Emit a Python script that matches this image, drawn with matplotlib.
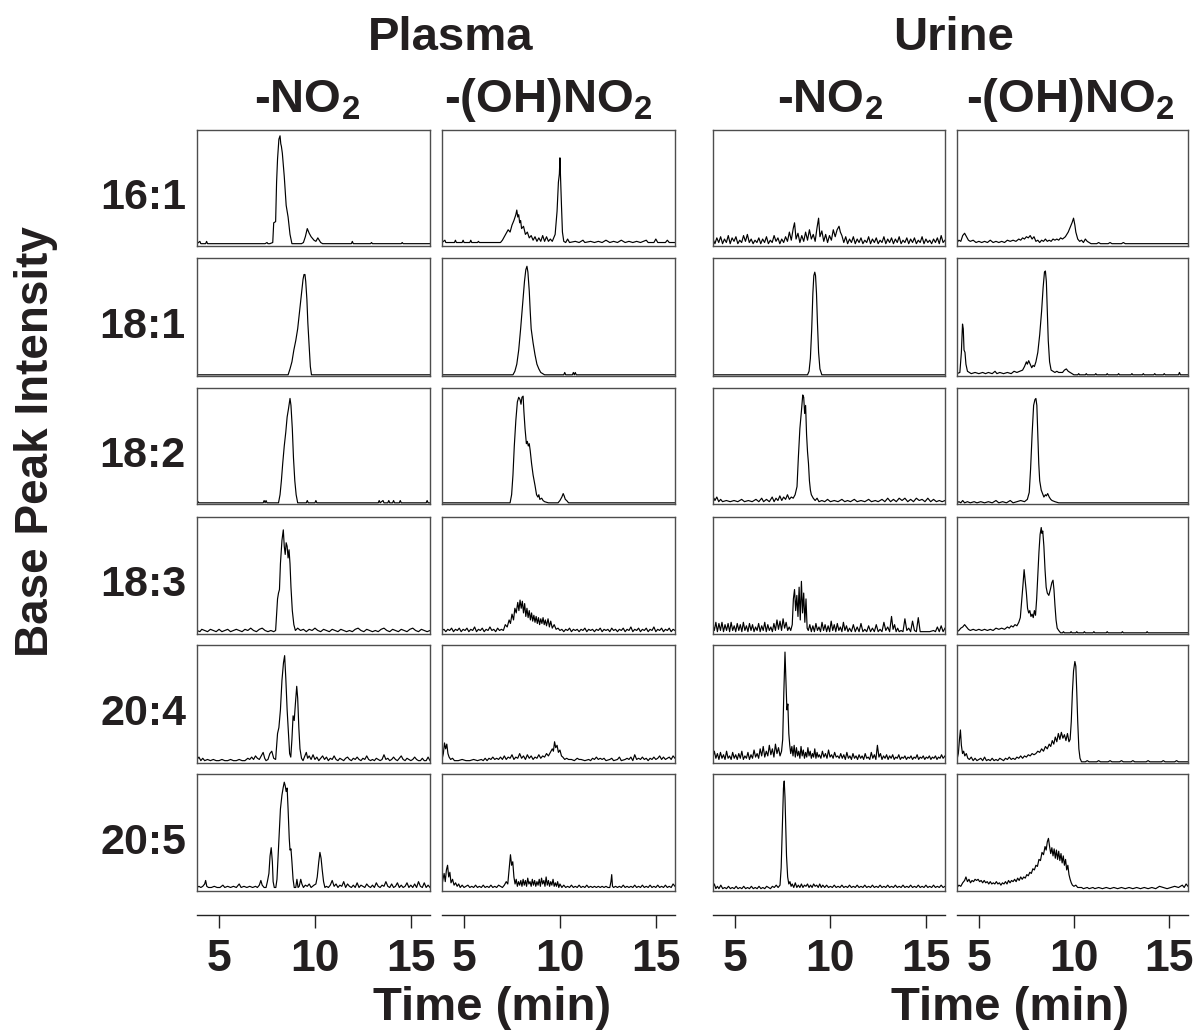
import matplotlib.pyplot as plt

# ---- fonts -------------------------------------------------------------
plt.rcParams['font.family'] = ['Liberation Sans', 'DejaVu Sans']
plt.rcParams['font.weight'] = 'bold'
plt.rcParams['mathtext.fontset'] = 'custom'
plt.rcParams['mathtext.rm'] = 'Liberation Sans:bold'
plt.rcParams['mathtext.it'] = 'Liberation Sans:bold'
plt.rcParams['mathtext.bf'] = 'Liberation Sans:bold'

# ---- labels ------------------------------------------------------------
GROUPS = ['Plasma', 'Urine']
ADDUCTS = [r'-NO$_2$', r'-(OH)NO$_2$', r'-NO$_2$', r'-(OH)NO$_2$']
LIPIDS = ['16:1', '18:1', '18:2', '18:3', '20:4', '20:5']
TIME_TICKS = [5, 10, 15]
T_MIN, T_MAX = 3.85, 16.0

# ---- traces: (time in min, relative intensity in %) ---------------------
# 16:1
plasma_no2_16_1 = [(3.85,2),(4.0,4),(4.05,2),(4.1,2),(4.3,2),(4.35,4),(4.4,2),(7.4,2),(7.5,3),(7.55,2),(7.65,2),(7.8,3),(7.85,20),(7.95,21),(8.0,55),(8.05,75),(8.12,92),(8.18,95),(8.22,88),(8.25,86),(8.3,80),(8.4,60),(8.5,35),(8.6,25),(8.7,10),(8.8,2),(9.3,2),(9.4,3),(9.5,8),(9.6,15),(9.7,11),(9.8,8),(9.95,5),(10.05,4),(10.15,7),(10.3,3),(10.4,2),(11.9,2),(11.95,4),(12.0,2),(12.9,2),(12.95,3),(13.0,2),(14.5,2),(14.55,3),(14.6,2),(16.0,2)]
plasma_ohno2_16_1 = [(3.85,3),(4.0,5),(4.05,3),(4.5,3),(4.55,5),(4.6,3),(4.9,3),(4.95,5),(5.0,3),(5.3,3),(5.35,5),(5.4,3),(5.7,3),(5.75,4),(5.8,3),(6.9,3),(7.0,5),(7.1,8),(7.2,11),(7.3,14),(7.4,12),(7.5,18),(7.6,22),(7.7,27),(7.75,31),(7.8,25),(7.85,27),(7.9,20),(7.95,22),(8.0,15),(8.1,17),(8.2,10),(8.3,12),(8.4,7),(8.5,9),(8.6,5),(8.7,8),(8.8,4),(8.9,7),(9.0,4),(9.1,9),(9.2,4),(9.3,8),(9.4,4),(9.5,6),(9.6,4),(9.75,10),(9.85,30),(9.92,55),(9.97,62),(10.0,76),(10.03,60),(10.08,35),(10.13,12),(10.2,4),(10.3,3),(10.4,6),(10.5,3),(10.8,4),(11.0,3),(11.2,5),(11.3,3),(11.6,4),(11.8,3),(12.0,4),(12.2,3),(12.4,5),(12.6,3),(12.8,4),(13.0,3),(13.2,5),(13.4,3),(13.6,4),(13.8,3),(14.0,4),(14.2,3),(14.5,5),(14.6,3),(14.9,3),(15.0,6),(15.1,3),(15.5,3),(15.6,5),(15.7,3),(16.0,3)]
urine_no2_16_1 = [(3.85,6),(3.95,2),(4.05,7),(4.15,3),(4.25,8),(4.35,2),(4.45,6),(4.55,3),(4.65,9),(4.75,2),(4.85,7),(4.95,4),(5.05,8),(5.15,2),(5.25,5),(5.35,3),(5.45,9),(5.55,4),(5.65,10),(5.75,3),(5.85,6),(5.95,2),(6.05,5),(6.15,3),(6.25,7),(6.35,2),(6.45,6),(6.55,3),(6.65,8),(6.75,2),(6.85,5),(6.95,3),(7.05,9),(7.15,4),(7.25,7),(7.35,2),(7.45,6),(7.55,3),(7.65,8),(7.75,4),(7.85,12),(7.95,5),(8.05,15),(8.12,20),(8.2,6),(8.3,11),(8.4,3),(8.5,9),(8.6,4),(8.7,12),(8.8,5),(8.9,14),(9.0,6),(9.1,10),(9.2,4),(9.3,16),(9.38,24),(9.45,8),(9.55,13),(9.65,4),(9.75,10),(9.85,3),(9.95,9),(10.05,5),(10.15,14),(10.25,8),(10.35,14),(10.45,17),(10.52,12),(10.6,9),(10.7,3),(10.8,8),(10.9,2),(11.0,6),(11.1,3),(11.2,8),(11.3,2),(11.4,6),(11.5,3),(11.6,7),(11.7,2),(11.8,5),(11.9,3),(12.0,8),(12.1,2),(12.2,6),(12.3,3),(12.4,7),(12.5,2),(12.6,5),(12.7,3),(12.8,8),(12.9,2),(13.0,6),(13.1,3),(13.2,7),(13.3,2),(13.4,6),(13.5,3),(13.6,8),(13.7,2),(13.8,5),(13.9,3),(14.0,7),(14.1,2),(14.2,6),(14.3,3),(14.4,7),(14.5,2),(14.6,5),(14.7,3),(14.8,8),(14.9,2),(15.0,6),(15.1,3),(15.2,5),(15.3,2),(15.4,6),(15.5,3),(15.6,7),(15.7,2),(15.8,9),(15.9,3),(16.0,5)]
urine_ohno2_16_1 = [(3.85,3),(3.95,5),(4.05,4),(4.15,9),(4.25,11),(4.35,8),(4.45,5),(4.55,4),(4.7,5),(4.85,3),(5.0,4),(5.15,3),(5.3,4),(5.45,3),(5.6,5),(5.75,3),(5.9,4),(6.05,3),(6.2,4),(6.35,3),(6.5,5),(6.65,4),(6.8,5),(6.95,4),(7.1,6),(7.2,5),(7.3,7),(7.4,6),(7.5,8),(7.6,7),(7.7,9),(7.8,6),(7.9,8),(8.0,4),(8.1,5),(8.2,3),(8.3,5),(8.4,4),(8.5,6),(8.6,4),(8.7,5),(8.8,4),(8.9,6),(9.0,5),(9.1,6),(9.2,5),(9.3,7),(9.4,6),(9.55,8),(9.7,12),(9.8,16),(9.9,20),(9.98,24),(10.05,18),(10.1,12),(10.2,6),(10.3,4),(10.4,5),(10.5,3),(10.6,6),(10.7,4),(10.8,3),(10.9,2),(11.2,2),(11.3,3),(11.4,2),(11.8,2),(11.9,3),(12.0,2),(12.5,2),(12.6,3),(12.7,2),(16.0,2)]

# 18:1
plasma_no2_18_1 = [(3.85,1),(8.6,1),(8.7,6),(8.8,12),(8.9,22),(9.0,30),(9.1,40),(9.2,55),(9.3,70),(9.38,82),(9.43,86),(9.48,86),(9.52,80),(9.58,65),(9.63,45),(9.7,25),(9.76,8),(9.82,1),(16.0,1)]
plasma_ohno2_18_1 = [(3.85,1),(7.55,1),(7.65,4),(7.75,10),(7.85,22),(7.95,40),(8.05,60),(8.15,80),(8.22,90),(8.28,93),(8.33,88),(8.4,72),(8.45,55),(8.5,40),(8.6,28),(8.7,18),(8.8,10),(8.9,6),(9.0,3),(9.1,2),(9.2,1),(10.2,1),(10.25,3),(10.3,1),(10.65,1),(10.7,3),(10.75,1),(10.8,3),(10.85,1),(16.0,1)]
urine_no2_18_1 = [(3.85,1),(8.8,1),(8.88,4),(8.95,15),(9.02,40),(9.08,70),(9.13,85),(9.18,88),(9.22,85),(9.27,70),(9.32,45),(9.38,20),(9.45,6),(9.55,1),(16.0,1)]
urine_ohno2_18_1 = [(3.85,2),(4.0,3),(4.08,20),(4.14,44),(4.18,40),(4.22,22),(4.27,20),(4.32,10),(4.4,4),(4.5,3),(4.6,2),(4.8,3),(5.0,2),(5.2,3),(5.35,2),(5.5,3),(5.7,2),(5.85,4),(5.95,2),(6.1,3),(6.3,2),(6.5,3),(6.7,2),(6.85,4),(7.0,3),(7.15,4),(7.3,5),(7.4,8),(7.5,12),(7.55,10),(7.62,13),(7.7,10),(7.78,7),(7.85,9),(7.92,8),(8.0,12),(8.1,20),(8.2,35),(8.3,55),(8.38,75),(8.45,88),(8.5,89),(8.55,80),(8.6,55),(8.65,30),(8.72,12),(8.8,5),(8.9,4),(9.0,3),(9.1,4),(9.2,3),(9.4,3),(9.5,5),(9.6,6),(9.7,4),(9.8,3),(9.9,2),(10.0,1),(10.2,1),(10.25,2),(10.3,1),(10.6,1),(10.65,2),(10.7,1),(11.1,1),(11.15,2),(11.2,1),(11.7,1),(11.75,2),(11.8,1),(12.3,1),(12.35,2),(12.4,1),(13.0,1),(13.05,2),(13.1,1),(13.6,1),(13.65,2),(13.7,1),(14.2,1),(14.25,2),(14.3,1),(14.7,1),(14.75,2),(14.8,1),(15.5,1),(15.55,3),(15.6,1),(16.0,1)]

# 18:2
plasma_no2_18_2 = [(3.85,1),(3.9,2),(3.95,1),(7.3,1),(7.35,3),(7.4,1),(7.45,3),(7.5,1),(8.1,1),(8.18,8),(8.25,20),(8.32,35),(8.4,50),(8.48,62),(8.55,75),(8.62,82),(8.7,91),(8.75,85),(8.82,65),(8.88,40),(8.95,20),(9.02,8),(9.1,1),(9.55,1),(9.6,3),(9.65,1),(10.0,1),(10.05,3),(10.1,1),(13.3,1),(13.35,3),(13.4,1),(13.55,3),(13.6,1),(13.8,1),(13.85,3),(13.9,1),(14.05,1),(14.1,3),(14.15,1),(14.4,1),(14.45,3),(14.5,1),(15.8,1),(15.85,3),(15.9,1),(16.0,1)]
plasma_ohno2_18_2 = [(3.85,1),(7.4,1),(7.48,8),(7.55,25),(7.62,50),(7.7,72),(7.78,88),(7.85,92),(7.92,90),(7.97,86),(8.02,92),(8.08,93),(8.12,80),(8.18,65),(8.25,52),(8.3,54),(8.35,50),(8.4,52),(8.45,46),(8.52,35),(8.6,25),(8.7,16),(8.78,8),(8.85,6),(8.9,8),(8.95,4),(9.05,5),(9.12,3),(9.2,2),(9.4,1),(9.9,1),(10.0,3),(10.1,6),(10.17,9),(10.22,7),(10.28,4),(10.35,3),(10.45,1),(16.0,1)]
urine_no2_18_2 = [(3.85,2),(3.9,5),(3.95,3),(4.05,6),(4.15,2),(4.25,4),(4.35,2),(4.55,3),(4.75,2),(4.95,3),(5.15,2),(5.35,4),(5.5,2),(5.7,3),(5.9,2),(6.1,4),(6.25,2),(6.4,5),(6.5,2),(6.65,4),(6.8,2),(6.95,6),(7.05,2),(7.15,5),(7.25,3),(7.35,7),(7.45,3),(7.55,6),(7.65,4),(7.75,8),(7.85,4),(7.95,6),(8.05,5),(8.15,8),(8.25,15),(8.32,40),(8.4,65),(8.48,80),(8.55,94),(8.6,92),(8.65,78),(8.7,85),(8.75,60),(8.8,45),(8.85,35),(8.9,20),(8.95,12),(9.0,8),(9.1,5),(9.2,3),(9.3,5),(9.4,2),(9.55,3),(9.7,2),(9.85,4),(10.0,2),(10.2,3),(10.4,2),(10.6,4),(10.75,2),(10.9,3),(11.05,2),(11.25,4),(11.4,2),(11.6,3),(11.8,2),(12.0,4),(12.15,2),(12.35,3),(12.5,2),(12.7,4),(12.85,2),(13.0,5),(13.15,2),(13.3,4),(13.45,2),(13.6,5),(13.75,3),(13.9,5),(14.05,2),(14.2,4),(14.35,2),(14.5,5),(14.65,3),(14.8,4),(14.95,2),(15.1,5),(15.25,2),(15.4,4),(15.55,2),(15.7,3),(15.85,2),(16.0,3)]
urine_ohno2_18_2 = [(3.85,1),(3.95,2),(4.05,1),(4.15,3),(4.25,1),(4.4,2),(4.55,1),(4.75,2),(4.9,1),(5.1,2),(5.3,1),(5.5,2),(5.7,1),(5.9,3),(6.05,1),(6.25,2),(6.45,1),(6.65,3),(6.8,1),(7.0,2),(7.2,3),(7.4,2),(7.55,4),(7.65,10),(7.72,30),(7.8,60),(7.88,85),(7.95,90),(8.0,91),(8.05,85),(8.1,60),(8.15,35),(8.2,20),(8.28,12),(8.35,9),(8.42,6),(8.5,8),(8.55,7),(8.62,9),(8.7,6),(8.78,4),(8.85,3),(9.0,2),(9.2,1),(16.0,1)]

# 18:3
plasma_no2_18_3 = [(3.85,3),(4.0,2),(4.1,4),(4.25,3),(4.4,2),(4.55,4),(4.7,3),(4.85,2),(5.0,4),(5.15,2),(5.3,3),(5.45,4),(5.6,2),(5.75,3),(5.9,4),(6.05,3),(6.2,2),(6.35,4),(6.5,3),(6.65,5),(6.8,3),(6.95,2),(7.1,4),(7.25,5),(7.4,3),(7.55,2),(7.7,3),(7.85,2),(7.95,3),(8.05,30),(8.1,35),(8.15,38),(8.2,60),(8.28,80),(8.35,89),(8.4,75),(8.45,68),(8.5,78),(8.55,75),(8.6,65),(8.65,72),(8.7,60),(8.75,40),(8.82,20),(8.9,8),(8.98,3),(9.1,5),(9.25,3),(9.4,4),(9.55,2),(9.7,4),(9.85,3),(10.0,5),(10.15,3),(10.3,2),(10.45,4),(10.6,3),(10.75,2),(10.9,4),(11.05,3),(11.2,2),(11.35,4),(11.5,3),(11.65,2),(11.8,3),(11.95,2),(12.1,4),(12.25,5),(12.4,3),(12.55,2),(12.7,4),(12.85,3),(13.0,2),(13.15,3),(13.3,2),(13.45,4),(13.6,5),(13.75,3),(13.9,2),(14.05,4),(14.2,3),(14.35,2),(14.5,4),(14.65,3),(14.8,2),(14.95,4),(15.1,5),(15.25,3),(15.4,2),(15.55,4),(15.7,3),(15.85,2),(16.0,3)]
plasma_ohno2_18_3 = [(3.85,3),(3.95,4),(4.05,2),(4.15,4),(4.25,3),(4.35,5),(4.45,2),(4.55,4),(4.65,3),(4.75,5),(4.85,2),(4.95,4),(5.05,3),(5.15,5),(5.25,2),(5.35,4),(5.45,3),(5.55,6),(5.65,2),(5.75,4),(5.85,3),(5.95,5),(6.05,2),(6.15,4),(6.25,3),(6.35,6),(6.45,3),(6.55,4),(6.65,2),(6.75,5),(6.85,3),(6.95,4),(7.05,3),(7.15,8),(7.25,6),(7.35,12),(7.42,9),(7.5,17),(7.58,12),(7.65,22),(7.72,18),(7.8,27),(7.86,20),(7.92,29),(7.98,22),(8.04,28),(8.1,18),(8.16,26),(8.22,15),(8.28,22),(8.34,14),(8.4,20),(8.46,12),(8.52,18),(8.58,11),(8.64,16),(8.7,10),(8.76,15),(8.82,9),(8.88,14),(8.94,8),(9.0,13),(9.06,9),(9.12,14),(9.18,8),(9.24,12),(9.3,7),(9.38,13),(9.45,6),(9.52,11),(9.6,5),(9.7,8),(9.8,4),(9.9,5),(10.0,3),(10.1,4),(10.2,2),(10.3,4),(10.4,3),(10.5,5),(10.6,2),(10.7,4),(10.8,3),(10.9,4),(11.0,2),(11.1,4),(11.2,3),(11.3,5),(11.4,2),(11.5,4),(11.6,3),(11.7,4),(11.8,2),(11.9,4),(12.0,3),(12.1,5),(12.2,2),(12.3,4),(12.4,3),(12.5,4),(12.6,2),(12.7,5),(12.8,3),(12.9,4),(13.0,2),(13.1,4),(13.2,3),(13.3,5),(13.4,2),(13.5,4),(13.6,3),(13.7,6),(13.8,2),(13.9,4),(14.0,3),(14.1,5),(14.2,2),(14.3,4),(14.4,3),(14.5,5),(14.6,2),(14.7,4),(14.8,3),(14.9,6),(15.0,2),(15.1,4),(15.2,3),(15.3,5),(15.4,2),(15.5,4),(15.6,3),(15.7,5),(15.8,2),(15.9,4),(16.0,3)]
urine_no2_18_3 = [(3.85,8),(3.92,3),(4.0,10),(4.08,2),(4.16,9),(4.24,3),(4.32,10),(4.4,2),(4.48,8),(4.56,3),(4.64,9),(4.72,2),(4.8,10),(4.88,3),(4.96,7),(5.04,2),(5.12,9),(5.2,3),(5.28,8),(5.36,2),(5.44,10),(5.52,3),(5.6,7),(5.68,2),(5.76,9),(5.84,3),(5.92,8),(6.0,2),(6.08,6),(6.16,3),(6.24,9),(6.32,2),(6.4,7),(6.48,3),(6.56,10),(6.64,2),(6.72,8),(6.8,3),(6.88,6),(6.96,2),(7.04,9),(7.12,3),(7.2,12),(7.28,4),(7.36,11),(7.44,3),(7.52,13),(7.6,5),(7.68,10),(7.76,3),(7.84,6),(7.92,3),(8.0,8),(8.06,30),(8.12,38),(8.18,20),(8.24,33),(8.3,15),(8.36,40),(8.42,12),(8.48,45),(8.54,18),(8.6,35),(8.66,10),(8.72,30),(8.78,5),(8.84,3),(8.92,8),(9.0,2),(9.08,7),(9.16,2),(9.24,9),(9.32,3),(9.4,6),(9.48,2),(9.56,10),(9.64,3),(9.72,8),(9.8,2),(9.88,7),(9.96,2),(10.04,11),(10.12,3),(10.2,8),(10.28,2),(10.36,9),(10.44,3),(10.52,6),(10.6,2),(10.68,10),(10.76,3),(10.84,7),(10.92,2),(11.0,5),(11.1,2),(11.2,8),(11.3,2),(11.4,6),(11.5,2),(11.6,9),(11.7,2),(11.8,4),(11.9,2),(12.0,7),(12.1,2),(12.2,5),(12.3,2),(12.4,8),(12.5,2),(12.6,4),(12.7,2),(12.8,10),(12.9,3),(13.0,6),(13.1,2),(13.2,15),(13.28,4),(13.36,8),(13.44,2),(13.52,5),(13.6,2),(13.7,3),(13.8,2),(13.9,13),(14.0,3),(14.1,5),(14.2,2),(14.3,11),(14.4,3),(14.5,2),(14.6,14),(14.7,2),(14.8,2),(15.0,2),(15.2,2),(15.4,3),(15.5,2),(15.6,6),(15.7,2),(15.8,7),(15.9,2),(16.0,5)]
urine_ohno2_18_3 = [(3.85,2),(3.95,3),(4.05,5),(4.15,6),(4.25,8),(4.35,6),(4.45,4),(4.55,3),(4.7,4),(4.85,3),(5.0,4),(5.15,3),(5.3,4),(5.45,3),(5.6,4),(5.75,3),(5.9,5),(6.05,4),(6.2,5),(6.35,4),(6.5,6),(6.6,5),(6.7,7),(6.8,6),(6.9,8),(7.0,7),(7.1,10),(7.18,14),(7.25,28),(7.32,42),(7.38,55),(7.44,45),(7.5,35),(7.56,22),(7.62,18),(7.68,20),(7.74,15),(7.8,17),(7.86,14),(7.92,20),(7.98,16),(8.04,30),(8.1,50),(8.16,70),(8.22,85),(8.28,91),(8.32,86),(8.36,88),(8.42,75),(8.48,55),(8.54,40),(8.6,35),(8.68,33),(8.76,38),(8.84,44),(8.9,46),(8.95,38),(9.0,25),(9.06,12),(9.12,5),(9.2,3),(9.3,1),(9.4,1),(9.45,2),(9.5,1),(9.8,1),(9.85,2),(9.9,1),(10.1,1),(10.15,2),(10.2,1),(10.5,1),(10.55,2),(10.6,1),(11.0,1),(11.05,2),(11.1,1),(11.7,1),(11.75,2),(11.8,1),(12.5,1),(12.55,2),(12.6,1),(13.8,1),(13.85,2),(13.9,1),(16.0,1)]

# 20:4
plasma_no2_20_4 = [(3.85,3),(3.95,5),(4.05,2),(4.15,4),(4.25,2),(4.4,3),(4.55,2),(4.7,3),(4.85,2),(5.0,2),(5.15,3),(5.3,2),(5.45,2),(5.6,3),(5.75,2),(5.9,2),(6.05,3),(6.2,2),(6.35,2),(6.5,4),(6.6,3),(6.7,5),(6.8,3),(6.9,6),(7.0,4),(7.1,3),(7.2,6),(7.3,9),(7.38,4),(7.45,2),(7.55,3),(7.65,8),(7.75,10),(7.85,4),(7.95,3),(8.05,25),(8.12,30),(8.2,45),(8.28,70),(8.36,85),(8.42,91),(8.48,72),(8.55,45),(8.62,25),(8.68,8),(8.74,5),(8.8,20),(8.86,40),(8.92,36),(8.98,50),(9.05,65),(9.1,55),(9.16,30),(9.22,12),(9.3,4),(9.38,2),(9.45,5),(9.55,9),(9.62,4),(9.7,6),(9.8,3),(9.9,7),(10.0,3),(10.1,5),(10.2,2),(10.3,4),(10.4,6),(10.5,3),(10.6,5),(10.7,2),(10.8,4),(10.9,3),(11.0,6),(11.1,3),(11.2,2),(11.3,4),(11.4,3),(11.5,2),(11.6,4),(11.7,5),(11.8,3),(11.9,2),(12.0,4),(12.1,3),(12.2,5),(12.3,3),(12.4,2),(12.5,4),(12.6,3),(12.7,6),(12.8,3),(12.9,2),(13.0,3),(13.1,2),(13.2,4),(13.3,3),(13.4,2),(13.5,3),(13.6,7),(13.7,3),(13.8,4),(13.9,2),(14.0,3),(14.1,5),(14.2,3),(14.3,2),(14.4,4),(14.5,6),(14.6,3),(14.7,2),(14.8,4),(14.9,3),(15.0,2),(15.1,3),(15.2,5),(15.3,3),(15.4,2),(15.5,2),(15.6,4),(15.7,2),(15.8,2),(15.9,5),(16.0,2)]
plasma_ohno2_20_4 = [(3.85,3),(3.92,8),(3.98,17),(4.04,12),(4.1,16),(4.16,8),(4.22,5),(4.3,3),(4.4,4),(4.5,2),(4.7,2),(4.9,3),(5.1,2),(5.3,2),(5.5,3),(5.7,2),(5.9,3),(6.0,2),(6.1,4),(6.2,2),(6.3,4),(6.4,3),(6.5,5),(6.6,3),(6.7,4),(6.8,3),(6.9,5),(7.0,3),(7.1,6),(7.2,3),(7.3,5),(7.4,4),(7.5,7),(7.6,3),(7.7,5),(7.8,4),(7.9,8),(8.0,4),(8.1,6),(8.2,3),(8.3,7),(8.4,4),(8.5,6),(8.6,3),(8.7,5),(8.8,4),(8.9,7),(9.0,4),(9.1,6),(9.2,5),(9.3,8),(9.4,6),(9.5,9),(9.6,12),(9.66,10),(9.72,18),(9.78,13),(9.85,15),(9.92,9),(10.0,11),(10.08,6),(10.15,5),(10.25,3),(10.35,4),(10.45,3),(10.6,3),(10.75,2),(10.9,4),(11.0,3),(11.1,3),(11.3,2),(11.5,3),(11.6,2),(11.7,4),(11.8,3),(11.9,5),(12.0,3),(12.1,4),(12.2,3),(12.3,4),(12.4,2),(12.6,3),(12.7,4),(12.8,2),(13.0,3),(13.1,5),(13.2,2),(13.4,3),(13.5,4),(13.6,3),(13.7,5),(13.8,2),(13.9,7),(14.0,3),(14.1,4),(14.2,3),(14.3,5),(14.4,3),(14.5,4),(14.6,2),(14.7,4),(14.8,3),(14.9,5),(15.0,3),(15.1,4),(15.2,6),(15.3,3),(15.4,5),(15.5,3),(15.6,4),(15.7,5),(15.8,3),(15.9,6),(16.0,4)]
urine_no2_20_4 = [(3.85,5),(3.92,10),(4.0,4),(4.08,8),(4.16,3),(4.24,9),(4.32,4),(4.4,7),(4.48,3),(4.56,10),(4.64,4),(4.72,6),(4.8,3),(4.88,9),(4.96,4),(5.04,7),(5.12,3),(5.2,8),(5.28,4),(5.36,10),(5.44,3),(5.52,6),(5.6,4),(5.68,9),(5.76,3),(5.84,7),(5.92,4),(6.0,11),(6.08,5),(6.16,8),(6.24,4),(6.32,12),(6.4,6),(6.48,14),(6.56,5),(6.64,10),(6.72,6),(6.8,15),(6.88,7),(6.96,12),(7.04,5),(7.12,16),(7.2,8),(7.28,13),(7.36,6),(7.44,10),(7.5,20),(7.56,60),(7.62,94),(7.67,70),(7.72,45),(7.77,50),(7.82,25),(7.87,15),(7.92,8),(7.98,14),(8.04,6),(8.1,15),(8.16,5),(8.22,13),(8.28,6),(8.34,10),(8.4,4),(8.46,14),(8.52,6),(8.58,11),(8.64,4),(8.7,9),(8.76,5),(8.82,13),(8.88,6),(8.94,10),(9.0,4),(9.06,8),(9.12,5),(9.18,12),(9.24,4),(9.3,9),(9.36,5),(9.42,7),(9.5,4),(9.58,10),(9.66,5),(9.74,8),(9.82,4),(9.9,11),(9.98,5),(10.06,7),(10.14,4),(10.22,9),(10.3,5),(10.38,6),(10.46,4),(10.54,8),(10.62,4),(10.7,7),(10.78,3),(10.86,9),(10.94,4),(11.02,6),(11.1,3),(11.18,8),(11.26,4),(11.34,6),(11.42,3),(11.5,7),(11.58,4),(11.66,6),(11.74,3),(11.82,8),(11.9,4),(11.98,5),(12.06,3),(12.14,9),(12.22,4),(12.3,7),(12.38,3),(12.46,15),(12.54,5),(12.62,8),(12.7,3),(12.78,6),(12.86,4),(12.94,7),(13.02,3),(13.1,6),(13.18,4),(13.26,7),(13.34,3),(13.42,5),(13.5,4),(13.58,7),(13.66,3),(13.74,5),(13.82,4),(13.9,6),(13.98,3),(14.06,5),(14.14,4),(14.22,6),(14.3,3),(14.38,5),(14.46,4),(14.54,7),(14.62,3),(14.7,5),(14.78,4),(14.86,6),(14.94,3),(15.02,5),(15.1,4),(15.18,6),(15.26,3),(15.34,5),(15.42,4),(15.5,6),(15.58,3),(15.66,5),(15.74,4),(15.82,7),(15.9,4),(16.0,6)]
urine_ohno2_20_4 = [(3.85,3),(3.92,8),(3.98,20),(4.03,28),(4.08,15),(4.14,8),(4.2,10),(4.26,6),(4.34,8),(4.42,4),(4.5,3),(4.6,5),(4.7,2),(4.8,4),(4.9,2),(5.0,3),(5.1,4),(5.2,2),(5.3,5),(5.4,2),(5.5,3),(5.6,2),(5.7,4),(5.8,2),(5.9,3),(6.0,2),(6.1,4),(6.2,3),(6.3,2),(6.4,4),(6.5,3),(6.6,5),(6.7,3),(6.8,4),(6.9,3),(7.0,5),(7.1,4),(7.2,6),(7.3,4),(7.4,6),(7.5,5),(7.6,7),(7.7,6),(7.8,8),(7.9,7),(8.0,8),(8.1,10),(8.2,9),(8.3,12),(8.4,10),(8.5,14),(8.6,12),(8.7,16),(8.78,14),(8.86,19),(8.94,16),(9.02,22),(9.1,18),(9.18,25),(9.26,20),(9.34,26),(9.42,21),(9.5,24),(9.58,19),(9.66,25),(9.74,18),(9.8,20),(9.86,35),(9.92,60),(9.98,78),(10.05,86),(10.1,82),(10.15,60),(10.2,35),(10.26,12),(10.32,4),(10.4,1),(10.6,1),(10.7,2),(10.8,1),(11.2,1),(11.3,2),(11.4,1),(11.8,1),(11.9,2),(12.0,1),(12.4,1),(12.5,2),(12.6,1),(13.0,1),(13.1,2),(13.2,1),(13.8,1),(13.9,2),(14.0,1),(14.6,1),(14.7,2),(14.8,1),(15.3,1),(15.4,2),(15.5,1),(16.0,1)]

# 20:5
plasma_no2_20_5 = [(3.85,3),(3.95,4),(4.05,3),(4.15,4),(4.25,6),(4.3,9),(4.36,4),(4.45,3),(4.6,3),(4.75,4),(4.9,3),(5.05,3),(5.2,5),(5.3,3),(5.45,4),(5.6,3),(5.75,4),(5.9,3),(6.05,6),(6.15,3),(6.3,4),(6.45,3),(6.6,4),(6.75,3),(6.9,4),(7.0,3),(7.1,5),(7.18,9),(7.25,5),(7.35,3),(7.45,3),(7.52,8),(7.6,15),(7.66,30),(7.72,37),(7.78,25),(7.82,8),(7.88,3),(7.96,3),(8.02,10),(8.08,30),(8.14,50),(8.2,70),(8.28,82),(8.34,88),(8.4,93),(8.45,90),(8.5,85),(8.55,88),(8.6,70),(8.66,45),(8.7,35),(8.75,36),(8.8,25),(8.86,10),(8.92,3),(9.0,3),(9.06,10),(9.12,3),(9.18,4),(9.26,10),(9.32,6),(9.4,3),(9.5,5),(9.6,4),(9.7,6),(9.8,3),(9.95,5),(10.05,6),(10.12,12),(10.2,25),(10.26,33),(10.32,28),(10.38,18),(10.45,8),(10.52,3),(10.6,4),(10.7,3),(10.8,5),(10.9,9),(11.0,4),(11.1,6),(11.2,3),(11.3,5),(11.4,4),(11.5,8),(11.6,3),(11.7,6),(11.8,4),(11.9,3),(12.0,5),(12.1,3),(12.2,7),(12.3,3),(12.4,5),(12.5,4),(12.6,3),(12.7,6),(12.8,4),(12.9,3),(13.0,5),(13.1,3),(13.2,7),(13.3,4),(13.4,3),(13.5,5),(13.6,4),(13.7,8),(13.8,4),(13.9,3),(14.0,6),(14.1,3),(14.2,4),(14.3,7),(14.4,3),(14.5,5),(14.6,3),(14.7,4),(14.8,7),(14.9,3),(15.0,5),(15.1,3),(15.2,6),(15.3,3),(15.4,8),(15.5,4),(15.6,3),(15.7,7),(15.8,3),(15.9,5),(16.0,3)]
plasma_ohno2_20_5 = [(3.85,5),(3.9,10),(3.96,15),(4.02,8),(4.08,18),(4.14,22),(4.2,12),(4.26,16),(4.32,7),(4.4,10),(4.48,5),(4.56,7),(4.64,4),(4.72,6),(4.8,3),(4.9,5),(5.0,3),(5.1,4),(5.2,5),(5.3,3),(5.4,4),(5.5,3),(5.6,5),(5.7,3),(5.8,4),(5.9,3),(6.0,5),(6.1,3),(6.2,4),(6.3,3),(6.4,5),(6.5,3),(6.6,4),(6.7,3),(6.8,5),(6.9,4),(7.0,3),(7.1,5),(7.2,8),(7.28,6),(7.36,20),(7.42,31),(7.48,22),(7.54,25),(7.6,12),(7.66,6),(7.72,10),(7.78,4),(7.84,8),(7.9,5),(7.96,9),(8.02,4),(8.08,10),(8.14,5),(8.2,9),(8.26,4),(8.32,11),(8.38,6),(8.44,8),(8.5,4),(8.56,10),(8.62,5),(8.68,9),(8.74,4),(8.8,8),(8.86,5),(8.92,10),(8.98,4),(9.04,11),(9.1,6),(9.16,9),(9.22,4),(9.28,12),(9.34,5),(9.4,9),(9.46,4),(9.52,8),(9.58,5),(9.64,10),(9.7,4),(9.76,7),(9.82,4),(9.88,8),(9.94,3),(10.0,6),(10.1,3),(10.2,5),(10.3,3),(10.4,4),(10.5,3),(10.6,5),(10.7,3),(10.8,4),(10.9,3),(11.0,5),(11.1,3),(11.2,4),(11.3,3),(11.4,5),(11.5,3),(11.6,4),(11.7,3),(11.8,4),(11.9,3),(12.0,4),(12.1,3),(12.2,4),(12.3,3),(12.4,4),(12.5,3),(12.6,3),(12.66,8),(12.7,14),(12.74,4),(12.8,3),(12.9,4),(13.0,3),(13.1,4),(13.2,3),(13.3,5),(13.4,3),(13.5,4),(13.6,3),(13.7,4),(13.8,3),(13.9,5),(14.0,3),(14.1,4),(14.2,3),(14.3,5),(14.4,3),(14.5,4),(14.6,3),(14.7,5),(14.8,3),(14.9,4),(15.0,3),(15.1,5),(15.2,3),(15.3,4),(15.4,3),(15.5,5),(15.6,3),(15.7,4),(15.8,3),(15.9,6),(16.0,4)]
urine_no2_20_5 = [(3.85,3),(3.92,6),(4.0,2),(4.08,4),(4.16,2),(4.26,5),(4.36,2),(4.46,3),(4.56,2),(4.66,4),(4.76,2),(4.86,3),(4.96,2),(5.06,4),(5.16,2),(5.26,3),(5.36,2),(5.46,4),(5.56,2),(5.66,3),(5.76,2),(5.86,4),(5.96,2),(6.06,3),(6.16,2),(6.26,4),(6.36,2),(6.46,3),(6.56,2),(6.66,4),(6.76,3),(6.86,2),(6.96,4),(7.06,3),(7.16,5),(7.26,3),(7.36,5),(7.42,20),(7.48,55),(7.54,88),(7.58,94),(7.62,80),(7.66,55),(7.7,30),(7.76,12),(7.82,6),(7.88,8),(7.94,4),(8.0,6),(8.08,3),(8.16,7),(8.24,3),(8.32,5),(8.4,3),(8.48,6),(8.56,3),(8.64,5),(8.72,4),(8.8,6),(8.88,3),(8.96,5),(9.04,3),(9.12,6),(9.2,4),(9.28,5),(9.36,3),(9.44,6),(9.52,3),(9.6,5),(9.7,3),(9.8,5),(9.9,3),(10.0,4),(10.1,3),(10.2,5),(10.3,3),(10.4,4),(10.5,3),(10.6,5),(10.7,3),(10.8,4),(10.9,3),(11.0,5),(11.1,3),(11.2,4),(11.3,3),(11.4,5),(11.5,3),(11.6,4),(11.7,3),(11.8,5),(11.9,3),(12.0,4),(12.1,3),(12.2,5),(12.3,3),(12.4,4),(12.5,3),(12.6,5),(12.7,3),(12.8,4),(12.9,3),(13.0,5),(13.1,3),(13.2,4),(13.3,3),(13.4,5),(13.5,3),(13.6,4),(13.7,3),(13.8,5),(13.9,3),(14.0,4),(14.1,3),(14.2,5),(14.3,3),(14.4,4),(14.5,3),(14.6,5),(14.7,3),(14.8,4),(14.9,3),(15.0,5),(15.1,3),(15.2,4),(15.3,3),(15.4,5),(15.5,3),(15.6,4),(15.7,3),(15.8,5),(15.9,3),(16.0,4)]
urine_ohno2_20_5 = [(3.85,3),(3.95,5),(4.05,4),(4.15,7),(4.25,9),(4.32,12),(4.4,8),(4.48,10),(4.56,7),(4.64,9),(4.72,8),(4.8,10),(4.88,9),(4.96,10),(5.04,8),(5.12,9),(5.2,7),(5.28,9),(5.36,7),(5.44,8),(5.52,6),(5.6,8),(5.68,6),(5.76,7),(5.84,6),(5.92,8),(6.0,6),(6.08,7),(6.16,5),(6.24,7),(6.32,6),(6.4,8),(6.48,6),(6.56,9),(6.64,7),(6.72,9),(6.8,8),(6.88,10),(6.96,8),(7.04,11),(7.12,9),(7.2,12),(7.28,10),(7.36,12),(7.44,11),(7.52,14),(7.6,13),(7.68,16),(7.76,15),(7.84,19),(7.92,18),(8.0,22),(8.08,21),(8.16,27),(8.24,26),(8.32,33),(8.4,31),(8.48,38),(8.54,35),(8.6,42),(8.66,45),(8.72,38),(8.78,32),(8.84,37),(8.9,30),(8.96,36),(9.02,28),(9.08,35),(9.14,27),(9.2,34),(9.26,26),(9.32,32),(9.38,24),(9.44,30),(9.5,22),(9.56,27),(9.62,18),(9.68,22),(9.74,14),(9.8,10),(9.86,7),(9.92,5),(10.0,4),(10.1,5),(10.2,3),(10.4,3),(10.5,2),(10.7,3),(10.8,2),(11.0,3),(11.1,2),(11.3,3),(11.5,2),(11.7,3),(11.9,2),(12.1,3),(12.3,2),(12.5,3),(12.7,2),(12.9,3),(13.1,2),(13.3,3),(13.5,2),(13.7,3),(13.9,2),(14.1,3),(14.3,2),(14.5,4),(14.7,3),(14.9,2),(15.1,3),(15.3,4),(15.5,3),(15.7,5),(15.8,3),(15.9,6),(16.0,4)]

grid = [
    [plasma_no2_16_1, plasma_ohno2_16_1, urine_no2_16_1, urine_ohno2_16_1],
    [plasma_no2_18_1, plasma_ohno2_18_1, urine_no2_18_1, urine_ohno2_18_1],
    [plasma_no2_18_2, plasma_ohno2_18_2, urine_no2_18_2, urine_ohno2_18_2],
    [plasma_no2_18_3, plasma_ohno2_18_3, urine_no2_18_3, urine_ohno2_18_3],
    [plasma_no2_20_4, plasma_ohno2_20_4, urine_no2_20_4, urine_ohno2_20_4],
    [plasma_no2_20_5, plasma_ohno2_20_5, urine_no2_20_5, urine_ohno2_20_5],
]

# ---- layout (pixels of the 1202 x 1035 canvas) --------------------------
W, H = 1202, 1035
TXT = '#231f20'
col_px = [(197, 430), (442, 675), (713, 945), (957, 1188)]
row_px = [(130, 246), (258, 376), (388, 504), (517, 634), (645, 763), (774, 891)]


def fx(x):
    return x / W


def fy(y):
    return 1 - y / H


fig = plt.figure(figsize=(W / 100, H / 100), dpi=100)

for r, (y0, y1) in enumerate(row_px):
    for c, (x0, x1) in enumerate(col_px):
        ax = fig.add_axes([fx(x0), fy(y1), (x1 - x0) / W, (y1 - y0) / H])
        t, inten = zip(*grid[r][c])
        ax.plot(t, inten, color='black', lw=0.85)
        ax.set_xlim(T_MIN, T_MAX)
        ax.set_ylim(0, 100)
        ax.set_xticks([])
        ax.set_yticks([])
        for s in ax.spines.values():
            s.set_color('#4d4d4d')
            s.set_linewidth(1.0)

# separate time axes under each column
for x0, x1 in col_px:
    bx = fig.add_axes([fx(x0), fy(915), (x1 - x0) / W, 0.0005])
    bx.set_xlim(T_MIN, T_MAX)
    bx.set_xticks(TIME_TICKS)
    bx.set_yticks([])
    bx.patch.set_visible(False)
    for s in ['top', 'left', 'right']:
        bx.spines[s].set_visible(False)
    bx.spines['bottom'].set_color('#222222')
    bx.spines['bottom'].set_linewidth(1.0)
    bx.tick_params(axis='x', direction='out', length=9, width=1.0, color='#222222',
                   pad=8, labelsize=32, labelcolor=TXT)

# ---- text ---------------------------------------------------------------
fig.text(fx(451), fy(50), GROUPS[0], fontsize=34, fontweight='bold', color=TXT,
         ha='center', va='baseline')
fig.text(fx(954), fy(50), GROUPS[1], fontsize=34, fontweight='bold', color=TXT,
         ha='center', va='baseline')

for xc, lab in zip([307, 548, 830, 1070], ADDUCTS):
    fig.text(fx(xc), fy(112), lab, fontsize=34, fontweight='bold', color=TXT,
             ha='center', va='baseline')

for (y0, y1), lab in zip(row_px, LIPIDS):
    fig.text(fx(186), fy((y0 + y1) / 2 + 10), lab, fontsize=31, fontweight='bold',
             color=TXT, ha='right', va='center')

fig.text(fx(36), fy(442), 'Base Peak Intensity', fontsize=33, fontweight='bold',
         color=TXT, rotation=90, ha='center', va='center')

fig.text(fx(492), fy(1008), 'Time (min)', fontsize=34, fontweight='bold', color=TXT,
         ha='center', va='center')
fig.text(fx(1010), fy(1008), 'Time (min)', fontsize=34, fontweight='bold', color=TXT,
         ha='center', va='center')

fig.savefig('out.png', dpi=100)
